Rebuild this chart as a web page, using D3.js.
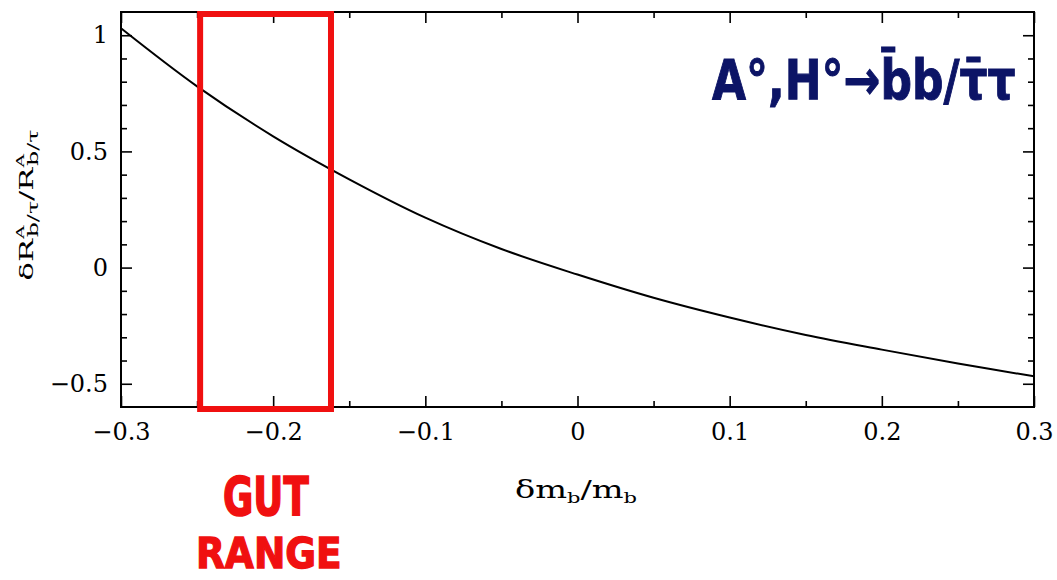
<!DOCTYPE html>
<html>
<head>
<meta charset="utf-8">
<script src="https://cdn.jsdelivr.net/npm/d3@7"></script>
<style>
  body { margin: 0; background: #fff; }
  svg { display: block; }
</style>
</head>
<body>
<svg id="chart" width="1057" height="580"></svg>
<script>
// Relative b-mass shift (x) and the resulting relative shift of R_{b/τ} (y)
const massShift  = [-0.30, -0.25, -0.20, -0.15, -0.10, -0.05, 0.00, 0.05, 0.10, 0.15, 0.20, 0.25, 0.30];
const ratioShift = [ 1.03,  0.78,  0.565, 0.38,  0.215, 0.08, -0.03, -0.13, -0.215, -0.29, -0.353, -0.413, -0.468];

// Mass-shift interval favoured by grand unification
const gutRange = [-0.248, -0.162];

const xMajorTicks = [-0.3, -0.2, -0.1, 0, 0.1, 0.2, 0.3];
const xMinorTicks = [-0.25, -0.15, -0.05, 0.05, 0.15, 0.25];
const yMajorTicks = [-0.5, 0, 0.5, 1];
const yMinorTicks = [-0.4, -0.3, -0.2, -0.1, 0.1, 0.2, 0.3, 0.4, 0.6, 0.7, 0.8, 0.9];
const xDomain = [-0.3, 0.3];
const yDomain = [-0.6, 1.1];

const svg = d3.select("#chart");
const plotLeft = 121, plotRight = 1034, plotTop = 12, plotBottom = 407;

const x = d3.scaleLinear().domain(xDomain).range([plotLeft, plotRight]);
const y = d3.scaleLinear().domain(yDomain).range([plotBottom, plotTop]);

const serif = "'DejaVu Serif', serif";
const fmt = d => d === 0 ? "0" : (d < 0 ? "\u2212" + Math.abs(d) : String(d));

function styleAxis(g) {
  g.select(".domain").remove();
  g.selectAll(".tick line").attr("stroke", "#000").attr("stroke-width", 1.6);
  g.selectAll(".tick text").attr("fill", "#000").style("font-family", serif).style("font-size", "24px");
}

// bottom axis with labels
svg.append("g").attr("transform", `translate(0,${plotBottom})`)
  .call(d3.axisBottom(x).tickValues(xMajorTicks).tickSize(-11).tickPadding(16).tickFormat(fmt))
  .call(styleAxis);
svg.append("g").attr("transform", `translate(0,${plotBottom})`)
  .call(d3.axisBottom(x).tickValues(xMinorTicks).tickSize(-6).tickFormat(""))
  .call(styleAxis);
// top mirror ticks
svg.append("g").attr("transform", `translate(0,${plotTop})`)
  .call(d3.axisTop(x).tickValues(xMajorTicks).tickSize(-11).tickFormat(""))
  .call(styleAxis);
svg.append("g").attr("transform", `translate(0,${plotTop})`)
  .call(d3.axisTop(x).tickValues(xMinorTicks).tickSize(-6).tickFormat(""))
  .call(styleAxis);

// left axis with labels
svg.append("g").attr("transform", `translate(${plotLeft},0)`)
  .call(d3.axisLeft(y).tickValues(yMajorTicks).tickSize(-11).tickPadding(13).tickFormat(fmt))
  .call(styleAxis);
svg.append("g").attr("transform", `translate(${plotLeft},0)`)
  .call(d3.axisLeft(y).tickValues(yMinorTicks).tickSize(-6).tickFormat(""))
  .call(styleAxis);
// right mirror ticks
svg.append("g").attr("transform", `translate(${plotRight},0)`)
  .call(d3.axisRight(y).tickValues(yMajorTicks).tickSize(-11).tickFormat(""))
  .call(styleAxis);
svg.append("g").attr("transform", `translate(${plotRight},0)`)
  .call(d3.axisRight(y).tickValues(yMinorTicks).tickSize(-6).tickFormat(""))
  .call(styleAxis);

// frame
svg.append("rect")
  .attr("x", plotLeft).attr("y", plotTop)
  .attr("width", plotRight - plotLeft).attr("height", plotBottom - plotTop)
  .attr("fill", "none").attr("stroke", "#000").attr("stroke-width", 2);

// curve
const line = d3.line()
  .x((d, i) => x(massShift[i]))
  .y(d => y(d))
  .curve(d3.curveCatmullRom.alpha(0.5));
svg.append("path")
  .datum(ratioShift)
  .attr("d", line)
  .attr("fill", "none")
  .attr("stroke", "#000")
  .attr("stroke-width", 2);

// GUT range box
const red = "#f01010";
svg.append("rect")
  .attr("x", x(gutRange[0]))
  .attr("y", y(yDomain[1]) + 2)
  .attr("width", x(gutRange[1]) - x(gutRange[0]))
  .attr("height", y(yDomain[0]) - y(yDomain[1]))
  .attr("fill", "none")
  .attr("stroke", red)
  .attr("stroke-width", 6);

// GUT RANGE note
const handFont = "'DejaVu Sans', sans-serif";
svg.append("text")
  .attr("transform", "translate(223,515) scale(1,1.45)")
  .style("font-family", handFont).style("font-weight", "bold").style("font-size", "37px")
  .attr("fill", red).attr("stroke", red).attr("stroke-width", 1.2)
  .text("GUT");
svg.append("text")
  .attr("transform", "translate(196,568) scale(1,1.15)")
  .style("font-family", handFont).style("font-weight", "bold").style("font-size", "37.5px")
  .attr("fill", red).attr("stroke", red).attr("stroke-width", 1.2)
  .text("RANGE");

// process note
const blue = "#0c1466";
svg.append("text")
  .attr("transform", "translate(712,99) scale(1,1.25)")
  .style("font-family", handFont).style("font-weight", "bold").style("font-size", "44px")
  .attr("fill", blue).attr("stroke", blue).attr("stroke-width", 0.8)
  .text("A\u00B0,H\u00B0\u2192b\u0304b/\u03C4\u0304\u03C4");

// x-axis title
const xt = svg.append("text")
  .attr("transform", "translate(576,498) scale(1.4,1)")
  .attr("text-anchor", "middle")
  .style("font-family", serif).style("font-size", "24px").attr("fill", "#000");
xt.append("tspan").text("\u03B4m");
xt.append("tspan").attr("dy", 5).style("font-size", "15px").text("b");
xt.append("tspan").attr("dy", -5).text("/m");
xt.append("tspan").attr("dy", 5).style("font-size", "15px").text("b");

// y-axis title
const yt = svg.append("text")
  .attr("transform", "translate(33,205) rotate(-90) scale(1.7,1)")
  .attr("text-anchor", "middle")
  .style("font-family", serif).style("font-size", "18px").attr("fill", "#000");
yt.append("tspan").text("\u03B4R");
yt.append("tspan").attr("dy", -9).style("font-size", "11px").text("A");
yt.append("tspan").attr("dx", -7).attr("dy", 14).style("font-size", "14px").text("b/\u03C4");
yt.append("tspan").attr("dy", -5).text("/R");
yt.append("tspan").attr("dy", -9).style("font-size", "11px").text("A");
yt.append("tspan").attr("dx", -7).attr("dy", 14).style("font-size", "14px").text("b/\u03C4");
</script>
</body>
</html>
